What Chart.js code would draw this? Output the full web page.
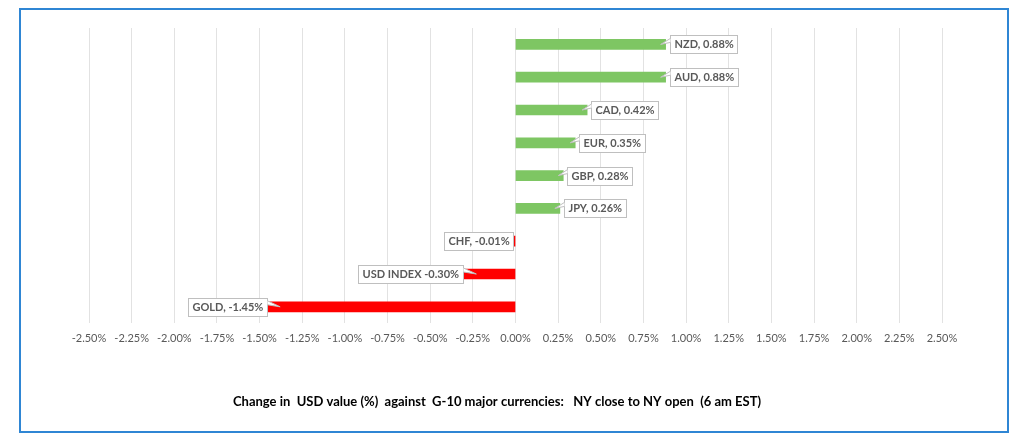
<!DOCTYPE html>
<html>
<head>
<meta charset="utf-8">
<script src="https://cdn.jsdelivr.net/npm/chart.js@4/dist/chart.umd.min.js"></script>
<style>
  html, body { margin: 0; padding: 0; background: #ffffff; }
  #wrap { position: relative; width: 1024px; height: 447px; }
  #c { position: absolute; left: 0; top: 0; }
  #frame { position: absolute; left: 19px; top: 8px; width: 986px; height: 421px;
           border: 2px solid #2F86D4; pointer-events: none; }
</style>
</head>
<body>
<div id="wrap">
  <canvas id="c" width="1024" height="447"></canvas>
  <div id="frame"></div>
</div>
<script>
// ---- data ----
const categories = ['NZD', 'AUD', 'CAD', 'EUR', 'GBP', 'JPY', 'CHF', 'USD INDEX', 'GOLD'];
const changes = [0.88, 0.88, 0.42, 0.35, 0.28, 0.26, -0.01, -0.30, -1.45];
const labelTexts = ['NZD, 0.88%', 'AUD, 0.88%', 'CAD, 0.42%', 'EUR, 0.35%', 'GBP, 0.28%',
                    'JPY, 0.26%', 'CHF, -0.01%', 'USD INDEX -0.30%', 'GOLD, -1.45%'];
const axisMin = -2.5, axisMax = 2.5, axisStep = 0.25;
const chartTitle = 'Change in  USD value (%)  against  G-10 major currencies:   NY close to NY open  (6 am EST)';

const GREEN = '#7EC663', RED = '#FF0000';
const barColors = changes.map(v => v >= 0 ? GREEN : RED);

const calloutPlugin = {
  id: 'callouts',
  afterDatasetsDraw(chart) {
    const ctx = chart.ctx;
    const meta = chart.getDatasetMeta(0);
    ctx.save();
    ctx.font = 'bold 11px Lato, "Open Sans", sans-serif';
    ctx.textBaseline = 'middle';
    meta.data.forEach((bar, i) => {
      const v = changes[i];
      const text = labelTexts[i];
      const tw = ctx.measureText(text).width;
      const w = Math.round(tw + 8), h = 18;
      const yc = bar.y;
      let bx, tipX;
      if (v >= 0) {
        bx = bar.x + 4;
        tipX = bar.x - 5;
      } else {
        bx = bar.x - 1 - w;
        tipX = bar.x + 12;
      }
      const by = Math.round(yc - h / 2) + 0.5;
      bx = Math.round(bx) + 0.5;
      ctx.fillStyle = '#ffffff';
      ctx.strokeStyle = '#BFBFBF';
      ctx.lineWidth = 1;
      ctx.fillRect(bx, by, w, h);
      ctx.strokeRect(bx, by, w, h);
      if (Math.abs(v) > 0.05) {
        const bxe = v >= 0 ? bx : bx + w;
        ctx.beginPath();
        ctx.moveTo(bxe, yc - 6);
        ctx.lineTo(tipX, yc);
        ctx.lineTo(bxe, yc - 2);
        ctx.closePath();
        ctx.fillStyle = '#ffffff';
        ctx.fill();
        ctx.beginPath();
        ctx.moveTo(bxe, yc - 6);
        ctx.lineTo(tipX, yc);
        ctx.lineTo(bxe, yc - 2);
        ctx.strokeStyle = '#BFBFBF';
        ctx.stroke();
      }
      ctx.fillStyle = '#595959';
      ctx.textAlign = 'left';
      ctx.fillText(text, bx + 4, yc + 0.5);
    });
    ctx.restore();
  }
};

new Chart(document.getElementById('c'), {
  type: 'bar',
  data: {
    labels: categories,
    datasets: [{
      data: changes,
      backgroundColor: barColors,
      borderWidth: 0,
      barThickness: 10
    }]
  },
  options: {
    indexAxis: 'y',
    responsive: false,
    animation: false,
    layout: { padding: { left: 52, right: 82, top: 28, bottom: 37 } },
    plugins: {
      legend: { display: false },
      tooltip: { enabled: false },
      title: {
        display: true,
        position: 'bottom',
        text: chartTitle,
        color: '#000000',
        font: { family: 'Lato, "Open Sans", sans-serif', size: 13, weight: 'bold' },
        padding: { top: 40, bottom: 0 }
      }
    },
    scales: {
      x: {
        type: 'linear',
        min: axisMin,
        max: axisMax,
        grid: { color: '#E2E2E2', lineWidth: 1, drawTicks: false },
        border: { display: false },
        ticks: {
          stepSize: axisStep,
          autoSkip: false,
          maxRotation: 0,
          padding: 9,
          color: '#595959',
          font: { family: 'Lato, "Open Sans", sans-serif', size: 11 },
          callback: v => (Math.abs(v) < 1e-9 ? 0 : v).toFixed(2) + '%'
        }
      },
      y: {
        grid: { display: false, drawTicks: false },
        border: { display: false },
        ticks: { display: false },
        afterFit(scale) { scale.width = 37; }
      }
    }
  },
  plugins: [calloutPlugin]
});
</script>
</body>
</html>
